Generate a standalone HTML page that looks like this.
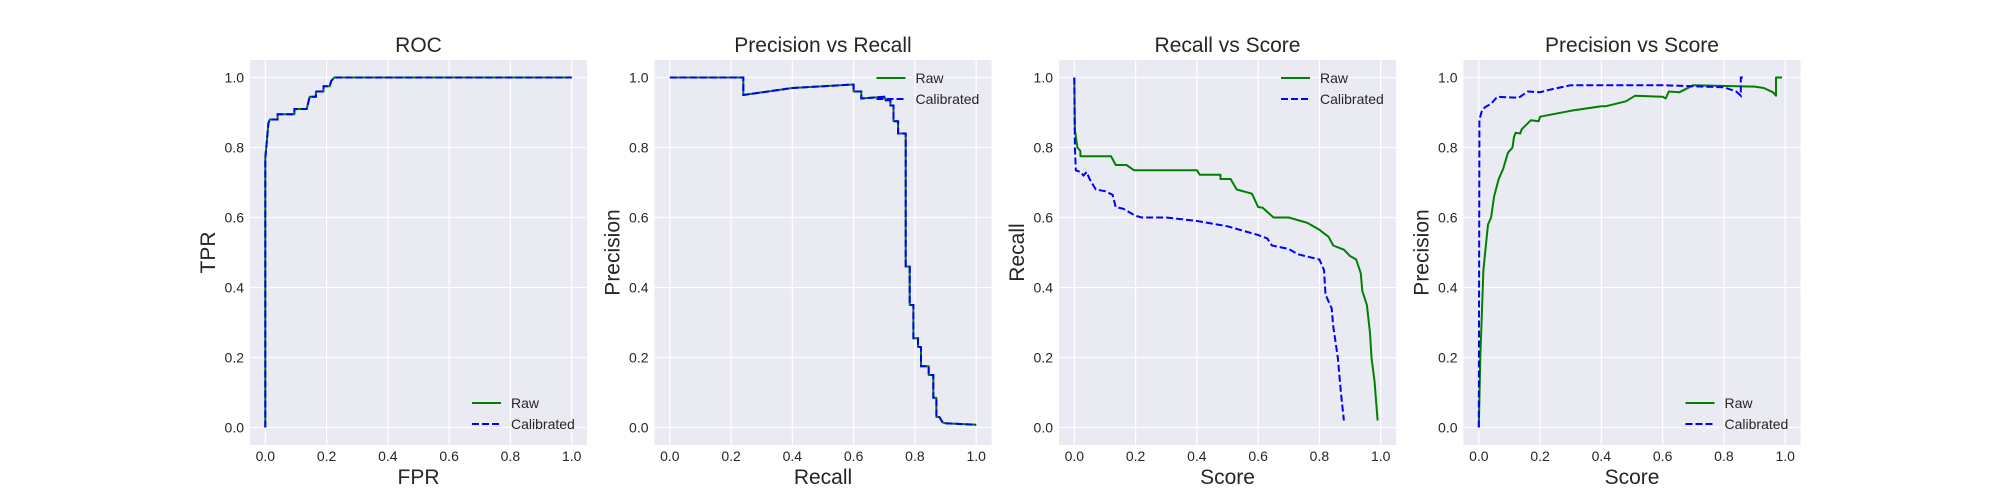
<!DOCTYPE html>
<html><head><meta charset="utf-8"><style>
html,body{margin:0;padding:0;background:#fff;}
svg{display:block;font-family:"Liberation Sans",Arial,sans-serif;}
</style></head><body>
<svg id="fig" width="2000" height="500" viewBox="0 0 2000 500"></svg>
<script>
const rocRawX=[0,0,0.005,0.01,0.015,0.04,0.04,0.095,0.095,0.135,0.145,0.165,0.165,0.19,0.19,0.21,0.215,0.225,1];
const rocRawY=[0,0.77,0.82,0.87,0.88,0.88,0.895,0.895,0.91,0.91,0.945,0.945,0.96,0.96,0.975,0.975,0.99,1,1];
const prX=[0,0.24,0.24,0.4,0.6,0.6,0.625,0.625,0.7,0.705,0.72,0.72,0.73,0.73,0.745,0.745,0.77,0.77,0.783,0.783,0.795,0.795,0.81,0.81,0.82,0.82,0.845,0.845,0.86,0.86,0.87,0.87,0.88,0.89,0.9,1];
const prY=[1,1,0.95,0.97,0.98,0.96,0.96,0.94,0.945,0.935,0.935,0.92,0.92,0.875,0.875,0.84,0.84,0.46,0.46,0.35,0.35,0.255,0.255,0.23,0.23,0.175,0.175,0.15,0.15,0.085,0.085,0.03,0.03,0.015,0.012,0.008];
const rsRawX=[0,0.002,0.01,0.02,0.02,0.12,0.135,0.17,0.195,0.4,0.41,0.477,0.477,0.51,0.53,0.58,0.6,0.615,0.65,0.7,0.76,0.8,0.83,0.845,0.88,0.9,0.92,0.935,0.94,0.955,0.965,0.97,0.98,0.99];
const rsRawY=[1,0.85,0.8,0.79,0.775,0.775,0.75,0.75,0.735,0.735,0.722,0.722,0.71,0.71,0.68,0.668,0.63,0.628,0.6,0.6,0.585,0.565,0.545,0.52,0.508,0.49,0.48,0.44,0.39,0.35,0.27,0.2,0.13,0.02];
const rsCalX=[0,0.002,0.005,0.02,0.03,0.04,0.05,0.07,0.1,0.125,0.135,0.16,0.2,0.22,0.3,0.4,0.5,0.6,0.63,0.645,0.7,0.73,0.8,0.815,0.82,0.84,0.845,0.86,0.87,0.88];
const rsCalY=[1,0.8,0.735,0.73,0.72,0.73,0.71,0.68,0.675,0.665,0.63,0.625,0.605,0.6,0.6,0.59,0.575,0.55,0.54,0.52,0.51,0.495,0.48,0.45,0.38,0.34,0.29,0.2,0.1,0.02];
const psRawX=[0,0.005,0.015,0.03,0.04,0.05,0.065,0.08,0.095,0.11,0.115,0.12,0.135,0.14,0.17,0.195,0.2,0.3,0.4,0.415,0.48,0.51,0.6,0.61,0.62,0.655,0.7,0.9,0.93,0.96,0.97,0.97,0.99];
const psRawY=[0,0.2,0.45,0.58,0.6,0.66,0.71,0.74,0.785,0.8,0.83,0.842,0.84,0.852,0.878,0.875,0.888,0.905,0.918,0.918,0.932,0.948,0.945,0.94,0.96,0.958,0.978,0.974,0.97,0.958,0.948,1,1];
const psCalX=[0,0.002,0.01,0.02,0.04,0.06,0.13,0.16,0.2,0.23,0.3,0.6,0.8,0.84,0.855,0.855,0.87];
const psCalY=[0,0.88,0.905,0.915,0.925,0.945,0.942,0.96,0.958,0.965,0.978,0.978,0.972,0.96,0.948,1,1];
const ticks=[0,0.2,0.4,0.6,0.8,1.0];
const tickLabels=["0.0","0.2","0.4","0.6","0.8","1.0"];

const panels=[
 {name:"roc",left:250,title:"ROC",xl:"FPR",yl:"TPR",leg:"bottom",raw:[rocRawX,rocRawY],cal:[rocRawX,rocRawY]},
 {name:"pr",left:654.5,title:"Precision vs Recall",xl:"Recall",yl:"Precision",leg:"top",raw:[prX,prY],cal:[prX,prY]},
 {name:"recall-score",left:1059,title:"Recall vs Score",xl:"Score",yl:"Recall",leg:"top",raw:[rsRawX,rsRawY],cal:[rsCalX,rsCalY]},
 {name:"precision-score",left:1463.5,title:"Precision vs Score",xl:"Score",yl:"Precision",leg:"bottom",raw:[psRawX,psRawY],cal:[psCalX,psCalY]}
];
const W=337,TOP=60,H=385;
const NS="http://www.w3.org/2000/svg";
const fig=document.getElementById('fig');
function mk(tag,attrs,parent){const e=document.createElementNS(NS,tag);for(const k in attrs)e.setAttribute(k,attrs[k]);parent.appendChild(e);return e;}
panels.forEach(p=>{
 const sx=v=>p.left+(v+0.05)/1.1*W;
 const sy=v=>TOP+H-(v+0.05)/1.1*H;
 const g=mk('g',{},fig);
 
 
 const bg=mk('rect',{x:p.left,y:TOP,width:W,height:H,fill:'#eaeaf2'},g);
 
 
 ticks.forEach((t,i)=>{
  const gx=mk('line',{x1:sx(t),x2:sx(t),y1:TOP,y2:TOP+H,stroke:'#fff','stroke-width':1.2},g);
  
  
  const gy=mk('line',{x1:p.left,x2:p.left+W,y1:sy(t),y2:sy(t),stroke:'#fff','stroke-width':1.2},g);
  
  
  const tx=mk('text',{x:sx(t),y:461,'text-anchor':'middle','font-size':14,fill:'#262626'},g);
  tx.textContent=tickLabels[i];
  
  
  const ty=mk('text',{x:p.left-6,y:sy(t)+5,'text-anchor':'end','font-size':14,fill:'#262626'},g);
  ty.textContent=tickLabels[i];
  
  
 });
 const tt=mk('text',{x:p.left+W/2,y:52,'text-anchor':'middle','font-size':21,fill:'#262626'},g);
 tt.textContent=p.title;
 
 
 const xl=mk('text',{x:p.left+W/2,y:484,'text-anchor':'middle','font-size':21,fill:'#262626'},g);
 xl.textContent=p.xl;
 
 
 const yx=p.left-35, yy=TOP+H/2;
 const yl=mk('text',{x:yx,y:yy,'text-anchor':'middle','font-size':21,fill:'#262626',transform:`rotate(-90 ${yx} ${yy})`},g);
 yl.textContent=p.yl;
 
 
 const pts=(xs,ys)=>xs.map((x,i)=>sx(x).toFixed(1)+','+sy(ys[i]).toFixed(1)).join(' ');
 const r=mk('polyline',{points:pts(p.raw[0],p.raw[1]),fill:'none',stroke:'#008000','stroke-width':2,'stroke-linejoin':'round'},g);
 
 
 const c=mk('polyline',{points:pts(p.cal[0],p.cal[1]),fill:'none',stroke:'#0000ff','stroke-width':2,'stroke-dasharray':'7,3'},g);
 
 
 const ly1=p.leg==='top'?78:403, ly2=ly1+21;
 const lg=mk('g',{},g);
 
 
 const lx=p.left+W-115;
 mk('line',{x1:lx,x2:lx+29,y1:ly1,y2:ly1,stroke:'#008000','stroke-width':2},lg);
 mk('line',{x1:lx,x2:lx+29,y1:ly2,y2:ly2,stroke:'#0000ff','stroke-width':2,'stroke-dasharray':'7,3'},lg);
 const t1=mk('text',{x:lx+39,y:ly1+5,'font-size':14,fill:'#262626'},lg);
 t1.textContent='Raw';
 
 
 const t2=mk('text',{x:lx+39,y:ly2+5,'font-size':14,fill:'#262626'},lg);
 t2.textContent='Calibrated';
 
 
});
</script>
</body></html>
